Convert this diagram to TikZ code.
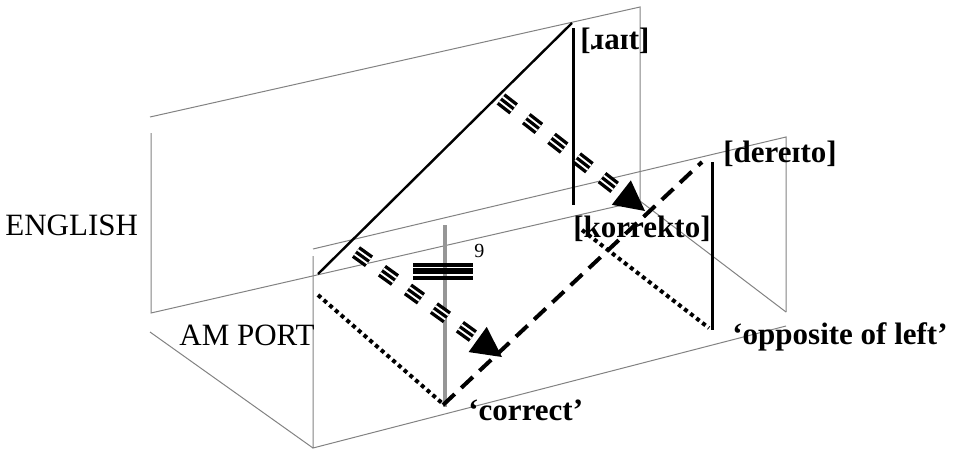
\documentclass[tikz,border=0pt]{standalone}
\usepackage{fontspec}
\setmainfont{Liberation Serif}
\usetikzlibrary{arrows.meta,calc}
\definecolor{planegray}{RGB}{130,130,130}
\definecolor{polegray}{RGB}{150,150,150}

\tikzset{
  plane/.style={draw=planegray, line width=0.5pt},
  lab/.style={font=\fontsize{15.5}{18}\selectfont, inner sep=0pt, anchor=base west},
  phon/.style={lab, font=\fontsize{15.5}{18}\selectfont\bfseries},
  dots/.style={line width=2pt, dash pattern=on 2pt off 1.8pt},
  dashes/.style={line width=2pt, dash pattern=on 8pt off 4.5pt},
  tripledash/.style={line width=7pt, dash pattern=on 8pt off 8pt,
    postaction={draw, white, line width=3.6pt, dash pattern=on 8pt off 8pt},
    postaction={draw, black, line width=1.6pt, dash pattern=on 8pt off 8pt}},
}

\begin{document}
\begin{tikzpicture}[x=0.5pt,y=-0.5pt]
    \useasboundingbox (0,0) rectangle (953,450);

    % corners
    \coordinate (bTL) at (150,117);
    \coordinate (bTR) at (640,7);
    \coordinate (bBR) at (640,201);
    \coordinate (bBL) at (151,313);
    \coordinate (bLtop) at (151,133);
    \coordinate (fTL) at (313,249);
    \coordinate (fTR) at (786,137);
    \coordinate (fBR) at (786,312);
    \coordinate (fBL) at (313,448);
    \coordinate (fLtop) at (313,256);
    \coordinate (fBend) at (786,326);
    \coordinate (dL) at (150,332);

    % back plane (english)
    \draw[plane] (bLtop) -- (bBL) -- (bBR) -- (bTR) -- (bTL);
    % front plane (portuguese)
    \draw[plane] (fLtop) -- (fBL) -- (fBend);
    \draw[plane] (fTL) -- (fTR) -- (fBR);
    % floor edges
    \draw[plane] (dL) -- (fBL);
    \draw[plane] (bBR) -- (fBR);

    % grey pole
    \coordinate (g1) at (445,225);
    \coordinate (g2) at (445,407);
    \draw[polegray, line width=2pt] (g1) -- (g2);

    % english side
    \coordinate (e1) at (318,274);
    \coordinate (e2) at (572,23);
    \coordinate (v1a) at (573,28);
    \coordinate (v1b) at (573,205);
    \draw[line width=1.2pt] (e1) -- (e2);
    \draw[line width=1.5pt] (v1a) -- (v1b);

    % portuguese side
    \coordinate (p1) at (318,295);
    \coordinate (p2) at (442,403);
    \coordinate (p3) at (582,230);
    \coordinate (p4) at (709,328);
    \coordinate (p5) at (443,405);
    \coordinate (p6) at (702,162);
    \coordinate (v2a) at (712,162);
    \coordinate (v2b) at (712,330);
    \draw[dots] (p1) -- (p2);
    \draw[dots] (p3) -- (p4);
    \draw[dashes] (p5) -- (p6);
    \draw[line width=1.5pt] (v2a) -- (v2b);

    % identity bars
    \foreach \y/\w in {265/1.7pt,271.2/2.8pt,278/2pt} {
        \draw[line width=\w] (413,\y) -- (473,\y);
    }

    % mapping arrows
    \coordinate (a1s) at (356,252);
    \coordinate (a1t) at (502,357);
    \coordinate (a2s) at (501,99);
    \coordinate (a2t) at (645,211);
    \foreach \s/\t in {a1s/a1t,a2s/a2t} {
        \coordinate (hb) at ($(\t)!15pt!(\s)$);
        \draw[tripledash] (\s) -- (hb);
        \fill (\t) -- ($(hb)!7.75pt!90:(\t)$) -- ($(hb)!7.75pt!-90:(\t)$) -- cycle;
    }

    % labels
    \node[lab] (english) at (5,235) {ENGLISH};
    \node[lab] (amport) at (179,345) {AM PORT};
    \node[phon] (right) at (580,49) {[ɹaɪt]};
    \node[phon] (dereito) at (723,162) {[dereɪto]};
    \node[phon] (korrekto) at (573,237) {[korrekto]};
    \node[phon] (correct) at (468,420) {‘correct’};
    \node[phon] (opposite) at (732,344) {‘opposite of left’};
    \node[lab, font=\fontsize{10}{11}\selectfont] (nine) at (474,257) {9};
\end{tikzpicture}
\end{document}
